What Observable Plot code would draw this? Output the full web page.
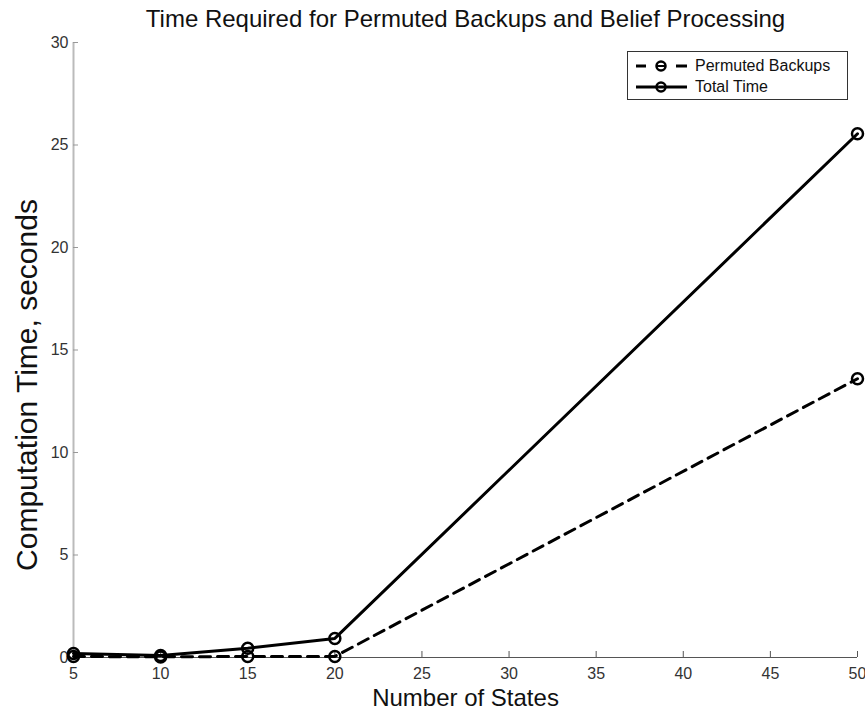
<!DOCTYPE html>
<html>
<head>
<meta charset="utf-8">
<script src="https://cdn.jsdelivr.net/npm/d3@7"></script>
<script src="https://cdn.jsdelivr.net/npm/@observablehq/plot@0.6"></script>
<style>
  html, body { margin: 0; padding: 0; background: #fff; }
  #wrap { position: relative; width: 865px; height: 710px; font-family: "Liberation Sans", Arial, sans-serif; }
  #legend { position: absolute; left: 627px; top: 51px; width: 221px; height: 49px; border: 1px solid #333; background: #fff; box-sizing: border-box; }
  #legend .row { position: absolute; left: 0; height: 20px; display: flex; align-items: center; font-size: 16px; color: #111; }
  #legend svg { margin-left: 8px; margin-right: 8px; }
</style>
</head>
<body>
<div id="wrap"></div>
<script>
const states = [5, 10, 15, 20, 50];
const permutedBackups = [0.05, 0.03, 0.05, 0.05, 13.6];
const totalTime = [0.2, 0.1, 0.45, 0.93, 25.55];
const xTicks = [5, 10, 15, 20, 25, 30, 35, 40, 45, 50];
const yTicks = [0, 5, 10, 15, 20, 25, 30];
const seriesNames = ["Permuted Backups", "Total Time"];
const titleText = "Time Required for Permuted Backups and Belief Processing";
const xLabel = "Number of States";
const yLabel = "Computation Time, seconds";

const pb = states.map((s, i) => ({x: s, y: permutedBackups[i]}));
const tt = states.map((s, i) => ({x: s, y: totalTime[i]}));

const chart = Plot.plot({
  width: 865,
  height: 710,
  marginLeft: 73,
  marginRight: 8,
  marginTop: 42,
  marginBottom: 53,
  style: {fontFamily: "Liberation Sans, Arial, sans-serif", fontSize: "16px", color: "#222", background: "#fff"},
  x: {domain: [5, 50], ticks: xTicks},
  y: {domain: [0, 30], ticks: yTicks},
  marks: [
    Plot.ruleX([5], {stroke: "#bbb", strokeWidth: 2}),
    Plot.ruleY([0], {stroke: "#555", strokeWidth: 1}),
    Plot.axisY({ticks: yTicks, tickSize: -5, stroke: "#999", tickPadding: 10, fontSize: 16, fill: "#333", label: null}),
    Plot.axisX({ticks: xTicks, tickSize: -6, stroke: "#555", tickPadding: 16, fontSize: 16, fill: "#333", label: null}),
    Plot.line(pb, {x: "x", y: "y", stroke: "#000", strokeWidth: 3, strokeDasharray: "11,7"}),
    Plot.line(tt, {x: "x", y: "y", stroke: "#000", strokeWidth: 3}),
    Plot.dot(pb, {x: "x", y: "y", r: 5.5, stroke: "#000", strokeWidth: 2.5, fill: "none"}),
    Plot.dot(tt, {x: "x", y: "y", r: 5.5, stroke: "#000", strokeWidth: 2.5, fill: "none"}),
    Plot.text([titleText], {frameAnchor: "top", lineAnchor: "middle", textAnchor: "middle", dy: -23, fontSize: 24, fill: "#111"}),
    Plot.text([xLabel], {frameAnchor: "bottom", lineAnchor: "middle", textAnchor: "middle", dy: 41, fontSize: 24, fill: "#111"}),
    Plot.text([yLabel], {frameAnchor: "left", lineAnchor: "middle", textAnchor: "middle", dx: -46, dy: 35, rotate: -90, fontSize: 30, fill: "#111"})
  ]
});
const wrap = document.getElementById("wrap");
wrap.appendChild(chart);

const legend = document.createElement("div");
legend.id = "legend";
seriesNames.forEach((name, i) => {
  const row = document.createElement("div");
  row.className = "row";
  row.style.top = (4 + i * 21) + "px";
  const lines = i === 0
    ? `<line x1="0" y1="10" x2="10" y2="10" stroke="#000" stroke-width="3"/><line x1="40" y1="10" x2="51" y2="10" stroke="#000" stroke-width="3"/>`
    : `<line x1="0" y1="10" x2="51" y2="10" stroke="#000" stroke-width="3"/>`;
  row.innerHTML = `<svg width="51" height="20">${lines}<circle cx="25" cy="10" r="4.5" stroke="#000" stroke-width="2.5" fill="none"/><line x1="21" y1="10" x2="29" y2="10" stroke="#000" stroke-width="2"/></svg><span>${name}</span>`;
  legend.appendChild(row);
});
wrap.appendChild(legend);
</script>
</body>
</html>
